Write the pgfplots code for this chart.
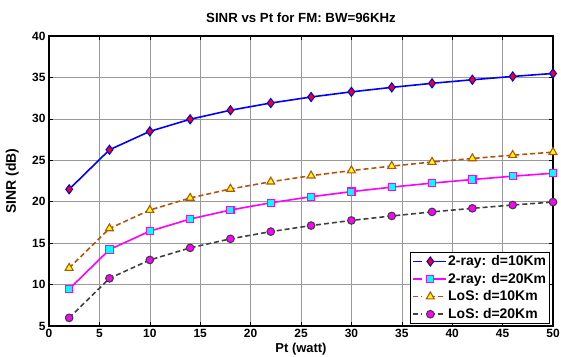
\documentclass[border=0pt]{standalone}
\usepackage{fontspec}
\setmainfont{Liberation Sans}
\usepackage{pgfplots}
\pgfplotsset{compat=1.18}
\definecolor{losbrown}{RGB}{181,82,15}
\definecolor{losgray}{RGB}{64,64,64}
\definecolor{mblue}{RGB}{0,0,255}
\definecolor{mred}{RGB}{255,0,0}
\definecolor{mmag}{RGB}{255,0,255}
\definecolor{mcyan}{RGB}{0,255,255}
\definecolor{myellow}{RGB}{255,255,0}
\begin{document}
\begin{tikzpicture}
\begin{axis}[
  scale only axis, width=504bp, height=290bp,
  xmin=0, xmax=50, ymin=5, ymax=40,
  xtick={0,5,...,50}, ytick={5,10,...,40},
  grid=major, grid style={color=black!40, line width=0.6pt},
  axis line style={line width=1.1pt},
  tick align=inside, major tick length=4bp,
  tick style={black, line width=0.6pt},
  /pgf/number format/assume math mode=true,
  ticklabel style={font=\fontsize{12}{14}\selectfont\bfseries},
  title={SINR vs Pt for FM: BW=96KHz},
  title style={at={(axis description cs:0.5,1)}, anchor=base, inner sep=0pt, yshift=8bp, font=\fontsize{13.3}{15}\selectfont\bfseries},
  xlabel={Pt (watt)},
  xlabel style={at={(axis description cs:0.5,0)}, anchor=north, inner sep=0pt, yshift=-17bp, font=\fontsize{13}{15}\selectfont\bfseries},
  ylabel={SINR (dB)},
  ylabel style={at={(axis description cs:-0.073,0.5)}, anchor=center, inner sep=0pt, font=\fontsize{14}{16}\selectfont\bfseries},
  legend style={at={(axis description cs:1,0)}, anchor=south east, xshift=-3bp, yshift=2bp,
    draw=black, line width=1pt, font=\fontsize{14}{16}\selectfont\bfseries, inner sep=2pt,
    row sep=3pt, fill=white, nodes={inner sep=1.5pt}},
  legend cell align=left,
  legend image code/.code={\draw[#1] (0cm,0cm) -- (0.3cm,0cm) plot coordinates {(0.6cm,0cm)} -- (1.15cm,0cm);},
]
\addplot[mblue, line width=1.6pt, mark=diamond*, mark size=4.5bp, mark options={solid, fill=mred, draw=mblue, line width=1.1pt}]
coordinates {(2,21.50) (6,26.27) (10,28.49) (14,29.95) (18,31.04) (22,31.91) (26,32.64) (30,33.26) (34,33.80) (38,34.29) (42,34.72) (46,35.12) (50,35.48)};
\addlegendentry{2-ray: d=10Km}
\addplot[mmag, line width=1.6pt, mark=square*, mark size=3.6bp, mark options={solid, fill=mcyan, draw=mmag, line width=1.1pt}]
coordinates {(2,9.46) (6,14.23) (10,16.45) (14,17.91) (18,19.00) (22,19.87) (26,20.60) (30,21.22) (34,21.76) (38,22.25) (42,22.68) (46,23.08) (50,23.44)};
\addlegendentry{2-ray: d=20Km}
\addplot[losbrown, line width=1.6pt, dash pattern=on 5pt off 3pt, mark=triangle*, mark size=4.6bp, mark options={solid, fill=myellow, draw=losbrown, line width=1.1pt}]
coordinates {(2,12.00) (6,16.77) (10,18.99) (14,20.45) (18,21.54) (22,22.41) (26,23.14) (30,23.76) (34,24.30) (38,24.79) (42,25.22) (46,25.62) (50,25.98)};
\addlegendentry{LoS: d=10Km}
\addplot[losgray, line width=1.6pt, dash pattern=on 5pt off 3pt, mark=*, mark size=3.8bp, mark options={solid, fill=mmag, draw=losgray, line width=1.1pt}]
coordinates {(2,5.98) (6,10.75) (10,12.97) (14,14.43) (18,15.52) (22,16.39) (26,17.12) (30,17.74) (34,18.28) (38,18.77) (42,19.20) (46,19.60) (50,19.96)};
\addlegendentry{LoS: d=20Km}
\coordinate (sw) at (rel axis cs:0,0);
\coordinate (ne) at (rel axis cs:1,1);
\end{axis}
\pgfresetboundingbox
\path ([shift={(-49bp,-31bp)}]sw) rectangle ([shift={(8bp,36bp)}]ne);
\end{tikzpicture}
\end{document}
